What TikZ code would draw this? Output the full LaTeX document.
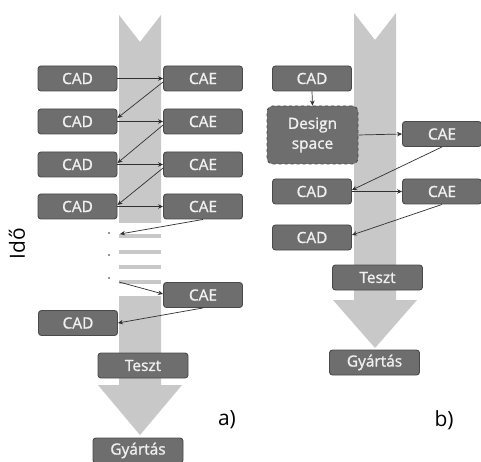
\documentclass[tikz,border=0pt]{standalone}
\usepackage{fontspec}
\setmainfont{Open Sans}
\newfontfamily\boxfont[FakeBold=1.2]{Open Sans}
\usetikzlibrary{arrows.meta,calc}
\definecolor{boxfill}{HTML}{6E6E6E}
\definecolor{boxborder}{HTML}{4A4A4A}
\definecolor{shaft}{HTML}{C8C8C8}
\definecolor{linecol}{HTML}{303030}
\begin{document}
\begin{tikzpicture}[x=1bp,y=-1bp,
  box/.style={draw=boxborder, line width=0.9bp, fill=boxfill, rounded corners=3bp,
    text=white!94!black, font=\boxfont\fontsize{15.5}{17}\selectfont, minimum width=79bp,
    minimum height=25bp, inner sep=0pt},
  wide/.style={minimum width=90bp},
  conn/.style={draw=linecol, line width=0.7bp, -{Stealth[length=5bp,width=4.5bp]}},
  lbl/.style={font=\fontsize{21}{24}\selectfont, text=black},
  tinydot/.style={fill=linecol, draw=none, circle, inner sep=0pt, minimum size=1.6bp}]
\useasboundingbox (0,0) rectangle (481,462);
\fill[white] (0,0) rectangle (481,462);
% ---- left time arrow ----
\fill[shaft] (119,15) -- (140,42) -- (161,15) -- (161,223) -- (119,223) -- cycle;
\foreach \y in {234,250,265,280} \fill[shaft] (119,\y) rectangle (161,\y+4);
\fill[shaft] (119,296) -- (161,296) -- (161,385) -- (182,385) -- (140,435) -- (98,385) -- (119,385) -- cycle;
% ---- right time arrow ----
\fill[shaft] (354,13) -- (375,40) -- (396,13) -- (396,300) -- (417,300) -- (375,348) -- (333,300) -- (354,300) -- cycle;
% ---- left boxes ----
\node[box] (cad1) at (77.5,78.5) {CAD};
\node[box] (cae1) at (203,78.5) {CAE};
\node[box] (cad2) at (77.5,121.5) {CAD};
\node[box] (cae2) at (203,121.5) {CAE};
\node[box] (cad3) at (77.5,164.5) {CAD};
\node[box] (cae3) at (203,164.5) {CAE};
\node[box] (cad4) at (77.5,206.5) {CAD};
\node[box] (cae4) at (203,206.5) {CAE};
\node[box] (cae5) at (203,295) {CAE};
\node[box] (cad5) at (78,323) {CAD};
\node[box,wide] (teszt) at (143,365.5) {Teszt};
\node[box,wide] (gyartas) at (138,450.5) {Gyártás};
\node[tinydot] (d1) at (109,233) {};
\node[tinydot] (d2) at (109,255) {};
\node[tinydot] (d3) at (109,278) {};
\coordinate (p1) at (120,234);
\coordinate (p2) at (119,282);
% ---- left connectors ----
\draw[conn] (cad1.east) -- (cae1.west);
\draw[conn] ($(cae1.west)+(0,3.5)$) -- ($(cad2.east)+(0,-3.5)$);
\draw[conn] (cad2.east) -- (cae2.west);
\draw[conn] ($(cae2.west)+(0,3.5)$) -- ($(cad3.east)+(0,-1.5)$);
\draw[conn] (cad3.east) -- (cae3.west);
\draw[conn] ($(cae3.west)+(0,3.5)$) -- ($(cad4.east)+(0,-1.5)$);
\draw[conn] (cad4.east) -- (cae4.west);
\draw[conn] (cae4.south) -- (p1);
\draw[conn] (p2) -- ($(cae5.west)+(0,-1)$);
\draw[conn] (cae5.south) -- (cad5.east);
% ---- right boxes ----
\node[box] (rcad1) at (312,78.5) {CAD};
\node[box, dashed, minimum width=91bp, minimum height=58bp, align=center, rounded corners=6bp,
  font=\boxfont\fontsize{15.5}{20}\selectfont] (ds) at (312.5,135) {Design\\space};
\node[box] (rcae1) at (442,134) {CAE};
\node[box] (rcad2) at (312,191.5) {CAD};
\node[box] (rcae2) at (442,191.5) {CAE};
\node[box] (rcad3) at (312,237.5) {CAD};
\node[box,wide] (rteszt) at (377.5,277.5) {Teszt};
\node[box,wide] (rgy) at (374.5,362.5) {Gyártás};
% ---- right connectors ----
\draw[conn] (rcad1.south) -- (ds.north);
\draw[conn] (ds.east) -- (rcae1.west);
\draw[conn] (rcae1.south) -- ($(rcad2.east)+(0,-1.5)$);
\draw[conn] (rcad2.east) -- (rcae2.west);
\draw[conn] (rcae2.south) -- ($(rcad3.east)+(0,-2.5)$);
% ---- labels ----
\node[lbl, rotate=90] (ido) at (17,244) {Idő};
\node[lbl] (la) at (227,420) {a)};
\node[lbl] (lb) at (444,420) {b)};
\end{tikzpicture}
\end{document}
